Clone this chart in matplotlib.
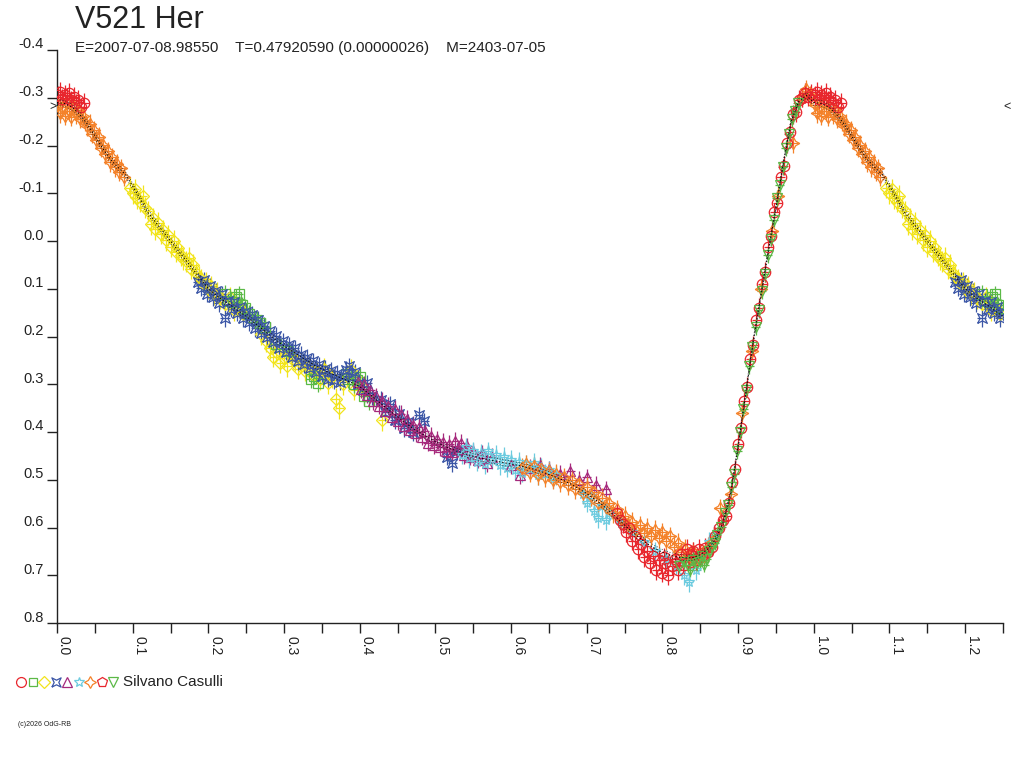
import numpy as np
import matplotlib
matplotlib.use("Agg")
import matplotlib.pyplot as plt
import matplotlib.transforms as mtransforms
from matplotlib.path import Path

plt.rcParams['font.family'] = ['Liberation Sans', 'DejaVu Sans']

##=============== texts ====================

title = "V521 Her"
subtitle = "E=2007-07-08.98550    T=0.47920590 (0.00000026)    M=2403-07-05"
observer = "Silvano Casulli"
credit = "(c)2026 OdG-RB"

x_ticks = [0.0, 0.1, 0.2, 0.3, 0.4, 0.5, 0.6, 0.7, 0.8, 0.9, 1.0, 1.1, 1.2]
x_minor = [0.05, 0.15, 0.25, 0.35, 0.45, 0.55, 0.65, 0.75, 0.85, 0.95, 1.05, 1.15, 1.25]
y_ticks = [-0.4, -0.3, -0.2, -0.1, 0.0, 0.1, 0.2, 0.3, 0.4, 0.5, 0.6, 0.7, 0.8]
y_labels = ["-0.4", "-0.3", "-0.2", "-0.1", "0.0", "0.1", "0.2", "0.3", "0.4", "0.5", "0.6", "0.7", "0.8"]

max_level = -0.28

##=============== fitted light curve ====================

fit_phase = [0.00, 0.01, 0.02, 0.03, 0.04, 0.05, 0.06, 0.07, 0.08, 0.09,
             0.10, 0.11, 0.12, 0.13, 0.14, 0.15, 0.16, 0.17, 0.18, 0.19,
             0.20, 0.21, 0.22, 0.23, 0.24, 0.25, 0.26, 0.27, 0.28, 0.29,
             0.30, 0.31, 0.32, 0.33, 0.34, 0.35, 0.36, 0.37, 0.38, 0.39,
             0.40, 0.41, 0.42, 0.43, 0.44, 0.45, 0.46, 0.47, 0.48, 0.49,
             0.50, 0.51, 0.52, 0.53, 0.54, 0.55, 0.56, 0.57, 0.58, 0.59,
             0.60, 0.61, 0.62, 0.63, 0.64, 0.65, 0.66, 0.67, 0.68, 0.69,
             0.70, 0.71, 0.72, 0.73, 0.74, 0.75, 0.76, 0.77, 0.78, 0.79,
             0.80, 0.81, 0.82, 0.83, 0.84, 0.85, 0.86, 0.87, 0.88, 0.89,
             0.90, 0.91, 0.92, 0.93, 0.94, 0.95, 0.96, 0.97, 0.98, 0.99, 1.00]
fit_mag = [-0.290, -0.288, -0.280, -0.265, -0.245, -0.220, -0.195, -0.172, -0.155, -0.140,
           -0.115, -0.088, -0.060, -0.040, -0.020, 0.000, 0.020, 0.040, 0.060, 0.080,
           0.100, 0.113, 0.125, 0.135, 0.147, 0.158, 0.170, 0.183, 0.196, 0.208,
           0.220, 0.230, 0.240, 0.250, 0.260, 0.268, 0.276, 0.283, 0.290, 0.297,
           0.305, 0.317, 0.330, 0.343, 0.356, 0.368, 0.380, 0.392, 0.402, 0.411,
           0.420, 0.428, 0.435, 0.441, 0.446, 0.451, 0.455, 0.458, 0.461, 0.464,
           0.467, 0.470, 0.474, 0.478, 0.483, 0.489, 0.495, 0.502, 0.510, 0.519,
           0.529, 0.540, 0.552, 0.566, 0.580, 0.595, 0.609, 0.622, 0.634, 0.644,
           0.652, 0.658, 0.662, 0.664, 0.663, 0.657, 0.645, 0.625, 0.590, 0.530,
           0.430, 0.320, 0.210, 0.115, 0.020, -0.070, -0.165, -0.250, -0.292, -0.305, -0.298]
fit_spread = 0.006

##=============== observations (phase, magnitude) ====================

red_circ_ph = [0.001, 0.004, 0.007, 0.010, 0.013, 0.016, 0.019, 0.022, 0.025, 0.028, 0.032, 0.036,
               0.740, 0.744, 0.748, 0.752, 0.756, 0.760, 0.764, 0.768, 0.772, 0.776, 0.780,
               0.784, 0.788, 0.792, 0.796, 0.800, 0.804, 0.808, 0.812, 0.816, 0.820, 0.824,
               0.828, 0.832, 0.836, 0.840, 0.844, 0.848, 0.852, 0.856, 0.860,
               0.865, 0.870, 0.875, 0.880, 0.884, 0.888, 0.892, 0.896, 0.900, 0.904, 0.908,
               0.912, 0.916, 0.920, 0.924, 0.928, 0.932, 0.936, 0.940, 0.944, 0.948, 0.952,
               0.956, 0.960, 0.964, 0.968, 0.972, 0.976, 0.980, 0.984, 0.988, 0.992, 0.996]
red_circ_mag = [-0.305, -0.312, -0.298, -0.306, -0.300, -0.310, -0.295, -0.302, -0.288, -0.296, -0.280, -0.290,
                0.570, 0.585, 0.592, 0.610, 0.602, 0.628, 0.618, 0.645, 0.635, 0.662, 0.650,
                0.675, 0.660, 0.690, 0.668, 0.695, 0.675, 0.700, 0.680, 0.665, 0.690, 0.655,
                0.678, 0.645, 0.672, 0.650, 0.668, 0.645, 0.660, 0.642, 0.652,
                0.640, 0.618, 0.600, 0.585, 0.575, 0.548, 0.505, 0.478, 0.425, 0.392, 0.335,
                0.305, 0.248, 0.218, 0.165, 0.140, 0.090, 0.065, 0.012, -0.010, -0.060, -0.080,
                -0.135, -0.158, -0.205, -0.228, -0.265, -0.270, -0.296, -0.300, -0.310, -0.302, -0.308]

green_sq_ph = [0.222, 0.226, 0.232, 0.236, 0.240, 0.244, 0.248, 0.254, 0.258, 0.264, 0.268, 0.275,
               0.290, 0.305, 0.335, 0.340, 0.345, 0.382, 0.385, 0.392, 0.396, 0.400, 0.405, 0.412]
green_sq_mag = [0.110, 0.125, 0.128, 0.118, 0.112, 0.135, 0.140, 0.152, 0.160, 0.165, 0.172, 0.180,
                0.215, 0.230, 0.290, 0.282, 0.298, 0.278, 0.290, 0.300, 0.292, 0.285, 0.325, 0.335]

yellow_ph = [0.096, 0.100, 0.103, 0.106, 0.110, 0.113, 0.116, 0.120, 0.124, 0.127,
             0.130, 0.134, 0.137, 0.140, 0.144, 0.147, 0.150, 0.154, 0.157, 0.160,
             0.164, 0.167, 0.170, 0.174, 0.177, 0.180, 0.184, 0.187, 0.190, 0.194,
             0.197, 0.200, 0.204, 0.208, 0.212,
             0.216, 0.222, 0.228, 0.234, 0.240, 0.246, 0.270, 0.276, 0.281, 0.286,
             0.290, 0.295, 0.300, 0.304, 0.309, 0.314, 0.318, 0.323, 0.328, 0.333,
             0.338, 0.343, 0.348, 0.353, 0.358, 0.363, 0.368, 0.373, 0.378, 0.383,
             0.388, 0.393, 0.398, 0.403, 0.430]
yellow_mag = [-0.112, -0.100, -0.108, -0.090, -0.082, -0.095, -0.070, -0.062, -0.035, -0.048,
              -0.025, -0.038, -0.015, -0.022, -0.002, -0.012, 0.012, 0.000, 0.022, 0.015,
              0.030, 0.038, 0.042, 0.035, 0.058, 0.050, 0.068, 0.075, 0.080, 0.090,
              0.086, 0.100, 0.095, 0.112, 0.108,
              0.120, 0.132, 0.118, 0.145, 0.138, 0.152, 0.195, 0.210, 0.225, 0.242,
              0.232, 0.255, 0.245, 0.262, 0.238, 0.250, 0.268, 0.255, 0.272, 0.262,
              0.280, 0.275, 0.290, 0.268, 0.298, 0.285, 0.330, 0.350, 0.300, 0.282,
              0.270, 0.312, 0.292, 0.305, 0.375]

blue_ph = [0.186, 0.190, 0.194, 0.198, 0.202, 0.206, 0.210, 0.214, 0.218, 0.222,
           0.226, 0.230, 0.234, 0.238, 0.242, 0.246, 0.250, 0.254, 0.258, 0.262,
           0.266, 0.270, 0.274, 0.278, 0.282, 0.286, 0.290, 0.294, 0.298, 0.302,
           0.306, 0.310, 0.314, 0.318, 0.322, 0.326, 0.330, 0.334, 0.338, 0.342,
           0.346, 0.350, 0.354, 0.358, 0.362, 0.366, 0.370, 0.374, 0.378, 0.382,
           0.386, 0.390, 0.394, 0.398, 0.404, 0.410, 0.416, 0.428, 0.434, 0.440,
           0.446, 0.452, 0.458, 0.464, 0.470, 0.478, 0.485, 0.515, 0.522, 0.528]
blue_mag = [0.085, 0.098, 0.082, 0.110, 0.095, 0.118, 0.105, 0.130, 0.112, 0.162,
            0.125, 0.142, 0.128, 0.150, 0.138, 0.162, 0.148, 0.170, 0.155, 0.182,
            0.165, 0.192, 0.178, 0.200, 0.188, 0.212, 0.198, 0.225, 0.210, 0.232,
            0.218, 0.242, 0.225, 0.252, 0.238, 0.258, 0.245, 0.265, 0.252, 0.275,
            0.260, 0.282, 0.268, 0.288, 0.272, 0.292, 0.278, 0.295, 0.282, 0.270,
            0.262, 0.285, 0.275, 0.300, 0.312, 0.298, 0.325, 0.332, 0.358, 0.342,
            0.375, 0.362, 0.392, 0.380, 0.400, 0.365, 0.378, 0.452, 0.465, 0.440]

purple_ph = [0.398, 0.402, 0.406, 0.410, 0.414, 0.418, 0.422, 0.426, 0.430, 0.434,
             0.438, 0.442, 0.446, 0.450, 0.454, 0.458, 0.462, 0.466, 0.470, 0.474,
             0.478, 0.482, 0.486, 0.490, 0.494, 0.498, 0.502, 0.506, 0.510, 0.514,
             0.518, 0.522, 0.526, 0.530, 0.534, 0.538, 0.542, 0.546, 0.550, 0.556,
             0.562, 0.568, 0.575, 0.600, 0.612, 0.625, 0.638, 0.650, 0.665, 0.678,
             0.690, 0.700, 0.712, 0.725]
purple_mag = [0.295, 0.310, 0.300, 0.322, 0.312, 0.335, 0.325, 0.345, 0.335, 0.355,
              0.345, 0.368, 0.352, 0.378, 0.362, 0.388, 0.372, 0.395, 0.385, 0.402,
              0.390, 0.410, 0.398, 0.422, 0.408, 0.428, 0.415, 0.432, 0.420, 0.440,
              0.425, 0.442, 0.418, 0.435, 0.422, 0.448, 0.430, 0.452, 0.440, 0.458,
              0.445, 0.465, 0.452, 0.470, 0.490, 0.475, 0.470, 0.478, 0.488, 0.482,
              0.500, 0.495, 0.510, 0.520]

cyan_ph = [0.535, 0.540, 0.545, 0.550, 0.555, 0.560, 0.565, 0.570, 0.575, 0.580,
           0.585, 0.590, 0.595, 0.600, 0.605, 0.610, 0.615, 0.620, 0.625, 0.630,
           0.635, 0.640, 0.645, 0.650, 0.655, 0.660, 0.695, 0.700, 0.705, 0.710,
           0.715, 0.720, 0.725, 0.730, 0.745, 0.760, 0.775, 0.790, 0.805, 0.818,
           0.828, 0.835, 0.845, 0.855, 0.862, 0.868]
cyan_mag = [0.448, 0.432, 0.455, 0.440, 0.462, 0.445, 0.468, 0.440, 0.458, 0.448,
            0.470, 0.452, 0.475, 0.458, 0.480, 0.462, 0.485, 0.468, 0.478, 0.465,
            0.490, 0.475, 0.488, 0.480, 0.498, 0.490, 0.530, 0.548, 0.535, 0.565,
            0.580, 0.555, 0.585, 0.570, 0.590, 0.610, 0.630, 0.650, 0.665, 0.680,
            0.700, 0.715, 0.690, 0.660, 0.630, 0.615]

orange_ph = [0.001, 0.004, 0.007, 0.010, 0.013, 0.016, 0.019, 0.022, 0.025, 0.028,
             0.031, 0.034, 0.037, 0.040, 0.043, 0.046, 0.049, 0.052, 0.055, 0.058,
             0.061, 0.064, 0.067, 0.070, 0.073, 0.076, 0.079, 0.082, 0.085, 0.088,
             0.615, 0.620, 0.625, 0.630, 0.635, 0.640, 0.645, 0.650, 0.655, 0.660,
             0.665, 0.670, 0.675, 0.680, 0.685, 0.690, 0.695, 0.700, 0.705, 0.710,
             0.715, 0.720, 0.725, 0.730, 0.735, 0.740, 0.745, 0.750, 0.755, 0.760,
             0.765, 0.770, 0.775, 0.780, 0.785, 0.790, 0.795, 0.800, 0.805, 0.810,
             0.815, 0.820, 0.825, 0.830, 0.835, 0.840, 0.845, 0.850, 0.855, 0.860, 0.865,
             0.876, 0.890, 0.905, 0.918, 0.930, 0.945, 0.953, 0.973, 0.985, 0.990, 0.995]
orange_mag = [-0.285, -0.268, -0.280, -0.262, -0.288, -0.272, -0.260, -0.280, -0.265, -0.274,
              -0.256, -0.262, -0.250, -0.240, -0.246, -0.225, -0.232, -0.212, -0.218, -0.195,
              -0.202, -0.182, -0.188, -0.165, -0.175, -0.155, -0.162, -0.145, -0.152, -0.135,
              0.475, 0.468, 0.485, 0.472, 0.490, 0.478, 0.495, 0.482, 0.500, 0.488,
              0.505, 0.495, 0.512, 0.500, 0.520, 0.508, 0.528, 0.515, 0.535, 0.525,
              0.548, 0.538, 0.558, 0.548, 0.570, 0.562, 0.582, 0.575, 0.595, 0.588,
              0.605, 0.595, 0.612, 0.600, 0.618, 0.605, 0.622, 0.610, 0.628, 0.618,
              0.640, 0.632, 0.652, 0.645, 0.662, 0.650, 0.665, 0.655, 0.660, 0.640, 0.630,
              0.560, 0.530, 0.360, 0.230, 0.100, -0.020, -0.095, -0.205, -0.300, -0.318, -0.305]

pent_ph = [0.802, 0.818, 0.838]
pent_mag = [0.660, 0.672, 0.655]

green_tri_ph = [0.822, 0.828, 0.834, 0.837, 0.840, 0.846, 0.849, 0.852, 0.855, 0.858,
                0.862, 0.866, 0.869, 0.872, 0.878, 0.883, 0.887, 0.891, 0.895, 0.899,
                0.903, 0.907, 0.911, 0.915, 0.919, 0.923, 0.927, 0.931, 0.935, 0.939,
                0.943, 0.947, 0.951, 0.955, 0.959, 0.963, 0.967, 0.971, 0.975, 0.979]
green_tri_mag = [0.680, 0.672, 0.678, 0.688, 0.668, 0.675, 0.672, 0.660, 0.678, 0.665,
                 0.650, 0.640, 0.632, 0.615, 0.598, 0.570, 0.552, 0.515, 0.488, 0.440,
                 0.400, 0.352, 0.312, 0.262, 0.222, 0.180, 0.145, 0.105, 0.070, 0.030,
                 -0.005, -0.045, -0.090, -0.118, -0.155, -0.195, -0.225, -0.255, -0.272, -0.288]

##=============== markers / styles ====================

concave_sq = Path([(-1, -1), (0, -0.5), (1, -1), (0.5, 0), (1, 1), (0, 0.5), (-1, 1), (-0.5, 0), (-1, -1)])

series = [
    (yellow_ph, yellow_mag, 0.022, "#f2e41c", "D", 6.5),
    (green_sq_ph, green_sq_mag, 0.018, "#5bb947", "s", 6.5),
    (blue_ph, blue_mag, 0.018, "#3b56a6", concave_sq, 7),
    (purple_ph, purple_mag, 0.018, "#a6297c", "^", 7),
    (cyan_ph, cyan_mag, 0.020, "#6ccbdf", "*", 8),
    (orange_ph, orange_mag, 0.020, "#f4822a", (4, 1, 0), 9),
    (red_circ_ph, red_circ_mag, 0.020, "#e8262d", "o", 7.5),
    (pent_ph, pent_mag, 0.018, "#e8262d", "p", 7.5),
    (green_tri_ph, green_tri_mag, 0.016, "#5bb947", "v", 7),
]
legend_order = [6, 1, 0, 2, 3, 4, 5, 7, 8]
text_col = "#222222"


def wrap(ph, mag):
    # phases below 0.25 are drawn again one cycle later
    ph = np.asarray(ph)
    mag = np.asarray(mag)
    sel = ph <= 0.25
    return np.concatenate([ph, ph[sel] + 1.0]), np.concatenate([mag, mag[sel]])


##=============== figure ====================

fig = plt.figure(figsize=(10.24, 7.68), dpi=100)
ax = fig.add_axes([57 / 1024, 1 - 623 / 768, 946 / 1024, 573 / 768])

for ph, mag, err, col, mk, ms in series:
    p, m = wrap(ph, mag)
    ax.errorbar(p, m, yerr=err, xerr=0.006, fmt="none", ecolor=col, elinewidth=0.9, capsize=0, zorder=2)
    ax.plot(p, m, linestyle="none", marker=mk, markersize=ms, markerfacecolor="none",
            markeredgecolor=col, markeredgewidth=0.9, zorder=3)

# fitted curve with its two error curves, thin dotted
fp, fm = wrap(fit_phase[:-1], fit_mag[:-1])
order = np.argsort(fp)
fp, fm = fp[order], fm[order]
ax.plot(fp, fm, color="black", lw=0.7, ls=(0, (1.5, 2)), zorder=4)
ax.plot(fp, fm - fit_spread, color="#222222", lw=0.5, ls=(0, (1.5, 2.5)), zorder=4)
ax.plot(fp, fm + fit_spread, color="#222222", lw=0.5, ls=(0, (1.5, 2.5)), zorder=4)

ax.set_xlim(0, 1.25)
ax.set_ylim(0.8, -0.4)
for s in ["top", "right"]:
    ax.spines[s].set_visible(False)
for s in ["left", "bottom"]:
    ax.spines[s].set_color(text_col)
    ax.spines[s].set_linewidth(1.0)

ax.set_xticks(x_ticks)
ax.set_xticks(x_minor, minor=True)
ax.set_xticklabels(["%.1f" % v for v in x_ticks])
ax.set_yticks(y_ticks)
ax.set_yticklabels(y_labels)
ax.tick_params(axis="x", which="both", direction="out", length=7, width=1, color=text_col,
               labelsize=10, labelcolor=text_col, pad=2)
ax.tick_params(axis="y", direction="out", length=7.5, width=1, color=text_col,
               labelsize=10.5, labelcolor=text_col, pad=2)
for lab in ax.get_xticklabels():
    lab.set_rotation(270)
    lab.set_horizontalalignment("left")
shift = mtransforms.ScaledTranslation(0, 7 / 100, fig.dpi_scale_trans)
for lab in ax.get_yticklabels():
    lab.set_transform(lab.get_transform() + shift)

# max level marks on both sides
ax.text(0, max_level, ">", ha="right", va="center", fontsize=9, color=text_col, clip_on=False)
ax.text(1.25, max_level, "<", ha="left", va="center", fontsize=9, color=text_col, clip_on=False)

##=============== header / footer ====================

fig.text(75 / 1024, 1 - 20 / 768, title, fontsize=22, color=text_col, va="center")
fig.text(75 / 1024, 1 - 48 / 768, subtitle, fontsize=11, color=text_col, va="center")

lax = fig.add_axes([0, 0, 1, 1], facecolor="none")
lax.set_xlim(0, 1024)
lax.set_ylim(768, 0)
lax.axis("off")
for i, k in enumerate(legend_order):
    col, mk, ms = series[k][3], series[k][4], series[k][5]
    lax.plot(21 + 11.5 * i, 682, marker=mk, markersize=ms * 0.95, markerfacecolor="none",
             markeredgecolor=col, markeredgewidth=0.9, linestyle="none")
lax.text(123, 682, observer, fontsize=11, color=text_col, va="center")
lax.text(18, 725, credit, fontsize=5, color=text_col, va="center")

fig.savefig("out.png", dpi=100)
